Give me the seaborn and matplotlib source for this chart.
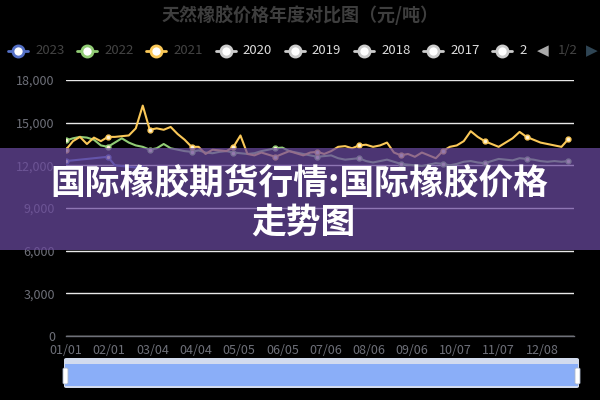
import pandas as pd
import matplotlib.pyplot as plt
import seaborn as sns
from matplotlib.lines import Line2D
from matplotlib.patches import Rectangle, FancyBboxPatch

# Data: prices sampled every 5 days of the year (day 0 = 01/01)
days = list(range(0, 365, 5))
days_2023 = list(range(0, 60, 5))

price_2023 = [12300, 12350, 12400, 12450, 12500, 12550, 12600, 12000, 11950, 11900, 11850, 11900]

price_2022 = [13750, 13900, 14000, 13950, 13800, 13400, 13300, 13600, 13900, 13600,
              13400, 13300, 13100, 13200, 13500, 13200, 13100, 13000, 12950, 13050,
              12900, 12850, 12950, 13000, 12900, 12850, 12800, 12850, 13000, 13100,
              13200, 13250, 13000, 12900, 12800, 12700, 12600, 12650, 12700, 12500,
              12400, 12450, 12500, 12300, 12200, 12300, 12400, 12250, 12100, 12050,
              12000, 11950, 12050, 12150, 12100, 12000, 12100, 12250, 12300, 12200,
              12150, 12300, 12450, 12400, 12350, 12500, 12450, 12400, 12300, 12250,
              12300, 12250, 12300]

price_2021 = [13100, 13700, 14000, 13500, 13950, 13700, 14000, 14000, 14050, 14100,
              14600, 16200, 14500, 14600, 14500, 14700, 14200, 13800, 13300, 13300,
              12800, 13100, 13050, 13000, 13300, 14100, 12800, 12700, 12900, 12750,
              12600, 12800, 13000, 12850, 12700, 12900, 12950, 12800, 13000, 13300,
              13350, 13200, 13400, 13450, 13300, 13400, 13600, 12900, 12700, 12800,
              12600, 12900, 12700, 12500, 13000, 13300, 13400, 13700, 14400, 14000,
              13700, 13500, 13300, 13600, 13900, 14350, 14000, 13800, 13600, 13500,
              13400, 13300, 13850]

tick_days = [0, 31, 62, 93, 124, 155, 186, 217, 248, 279, 310, 341]
tick_labels = ['01/01', '02/01', '03/04', '04/04', '05/05', '06/05',
               '07/06', '08/06', '09/06', '10/07', '11/07', '12/08']

legend_years = ['2023', '2022', '2021', '2020', '2019', '2018', '2017', '2']
colors = {'2023': '#5470c6', '2022': '#91cc75', '2021': '#fac858'}

fonts = ['Noto Sans CJK SC', 'DejaVu Sans']

sns.set_style('dark')
plt.rcParams['font.family'] = fonts

fig = plt.figure(figsize=(6, 4), dpi=100, facecolor='black')
ax = fig.add_axes([66 / 600, 1 - 336 / 400, 508 / 600, 256 / 400])
ax.set_facecolor('black')


def px(x, y):
    return x / 600, 1 - y / 400


series = [(days_2023, price_2023, '2023'),
          (days, price_2022, '2022'),
          (days, price_2021, '2021')]
for d, v, year in series:
    df = pd.DataFrame({'day': d, 'price': v})
    sns.lineplot(data=df, x='day', y='price', ax=ax, color=colors[year],
                 linewidth=1.5, marker='o', markersize=3.5, markevery=6,
                 markerfacecolor='#fff3d6', markeredgecolor=colors[year],
                 markeredgewidth=1.0, zorder=3)

ax.set_xlim(0, 364)
ax.set_ylim(0, 18000)
ax.set_yticks(range(0, 18001, 3000))
ax.set_yticklabels([f'{t:,}' for t in range(0, 18001, 3000)])
ax.set_xticks(tick_days)
ax.set_xticklabels(tick_labels)
ax.set_xlabel('')
ax.set_ylabel('')
ax.grid(False)
ax.yaxis.grid(True, color='#e8e8e8', linewidth=1)
ax.set_axisbelow(True)
for s in ['top', 'right', 'left']:
    ax.spines[s].set_visible(False)
ax.spines['bottom'].set_color('#6e7079')
ax.spines['bottom'].set_linewidth(1)
ax.tick_params(axis='y', length=0, pad=8, labelsize=9, labelcolor='#6e7079')
ax.tick_params(axis='x', length=4, width=1, color='#6e7079', pad=2,
               labelsize=9, labelcolor='#6e7079', direction='out')

# Title
fig.text(0.5, 1 - 15 / 400, '天然橡胶价格年度对比图（元/吨）', ha='center', va='center',
         fontsize=13, fontweight='bold', color='#3e3e3e', family=fonts)

# Legend row (drawn by hand to mimic the paged legend)
for i, year in enumerate(legend_years):
    cx = 18 + i * 69.2
    active = year in colors
    col = colors.get(year, '#cccccc')
    x0, y0 = px(cx - 10, 51)
    x1, _ = px(cx + 10, 51)
    fig.add_artist(Line2D([x0, x1], [y0, y0], color=col, linewidth=2,
                          transform=fig.transFigure))
    fig.add_artist(Line2D([(x0 + x1) / 2], [y0], marker='o', markersize=8,
                          markerfacecolor='white', markeredgecolor=col,
                          markeredgewidth=2, transform=fig.transFigure))
    tx, ty = px(cx + 17, 51)
    fig.text(tx, ty, year, ha='left', va='center', fontsize=9.5,
             color='#444444' if active else '#dddddd', family=fonts)
fig.text(*px(543, 51), '◀', ha='center', va='center', fontsize=11, color='#aaaaaa',
         family=['DejaVu Sans'])
fig.text(*px(568, 51), '1/2', ha='center', va='center', fontsize=9.5, color='#444444',
         family=fonts)
fig.text(*px(592, 51), '▶', ha='center', va='center', fontsize=11, color='#2f4554',
         family=['DejaVu Sans'])

# Data zoom slider
bx, by = px(64, 388)
fig.add_artist(FancyBboxPatch((bx, by), 515 / 600, 30 / 400,
                              boxstyle='round,pad=0,rounding_size=0.004',
                              facecolor='#d2dbee', edgecolor='none',
                              transform=fig.transFigure, zorder=2))
fig.add_artist(Rectangle(px(65, 386), 513 / 600, 22 / 400, facecolor='#8aaef8',
                         edgecolor='none', transform=fig.transFigure, zorder=3))
for hx in [63, 575]:
    fig.add_artist(FancyBboxPatch(px(hx, 384), 5 / 600, 16 / 400,
                                  boxstyle='round,pad=0,rounding_size=0.003',
                                  facecolor='white', edgecolor='#aab6cc', linewidth=0.6,
                                  transform=fig.transFigure, zorder=4))

# Purple banner overlay with headline text
fig.add_artist(Rectangle(px(0, 250), 1, 102 / 400, facecolor='#6b4aa0', alpha=0.72,
                         edgecolor='none', transform=fig.transFigure, zorder=10))
fig.text(*px(299, 183), '国际橡胶期货行情:国际橡胶价格', ha='center', va='center',
         fontsize=25, fontweight='heavy', color='white', family=fonts, zorder=11)
fig.text(*px(303, 222), '走势图', ha='center', va='center',
         fontsize=25, fontweight='heavy', color='white', family=fonts, zorder=11)

fig.savefig('out.png', dpi=100, facecolor='black')
